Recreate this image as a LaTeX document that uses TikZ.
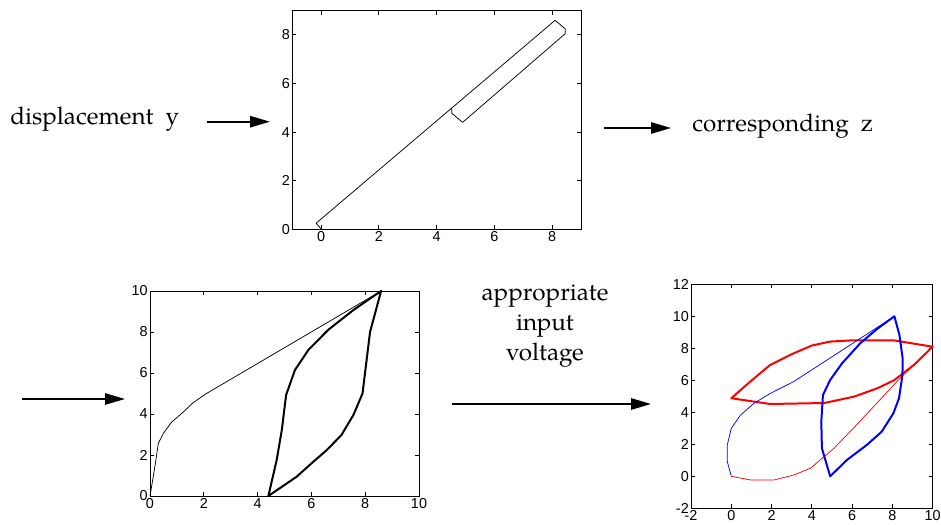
\documentclass[tikz,border=0pt]{standalone}
\usepackage{fontspec}
\setmainfont{TeX Gyre Pagella}
\newfontfamily\ticksans{Liberation Sans}
\usetikzlibrary{arrows.meta}

\begin{document}
\begin{tikzpicture}[x=0.75pt,y=-0.75pt,
    lbl/.style={font=\fontsize{18.2}{22.5}\selectfont, inner sep=0pt},
    arr/.style={-{Triangle[length=15pt,width=8.5pt]}, line width=1.4pt},
    frame/.style={line width=0.6pt},
    ticklbl/.style={font=\ticksans\fontsize{10.8}{12}\selectfont, inner sep=1.5pt},
    thincurve/.style={line width=0.55pt, line join=round},
    boldcurve/.style={line width=1.5pt, line join=round}
]
\useasboundingbox (0,0) rectangle (941,524);

% texts
\node[lbl, anchor=base west] (disp) at (10,125) {displacement\ \ y};
\node[lbl, anchor=base west] (corr) at (692,131.7) {corresponding\ \ z};
\node[lbl, align=center, anchor=north] (volt) at (545,285) {appropriate\\input\\voltage};

% arrow ends
\coordinate (a1s) at (207,121.7);
\coordinate (a1e) at (270,121.7);
\coordinate (a2s) at (604,128);
\coordinate (a2e) at (671,128);
\coordinate (a3s) at (22,399);
\coordinate (a3e) at (125,399);
\coordinate (a4s) at (452,404);
\coordinate (a4e) at (651,404);

\draw[arr] (a1s) -- (a1e);
\draw[arr] (a2s) -- (a2e);
\draw[arr] (a3s) -- (a3e);
\draw[arr] (a4s) -- (a4e);

% plot origins
\coordinate (o1) at (321,229.3);
\coordinate (o2) at (150,496);
\coordinate (o3) at (731.3,476.3);

% top plot
\begin{scope}[shift={(o1)}, x=21.675pt, y=18.225pt]
  \draw[frame] (-1,0) rectangle (9,9);
  \foreach \t in {0,2,...,8} {
    \draw[frame] (\t,0) -- ++(0,3pt) (\t,9) -- ++(0,-3pt);
    \draw[frame] (-1,\t) -- ++(3pt,0) (9,\t) -- ++(-3pt,0);
    \node[ticklbl, anchor=north] (xa\t) at (\t,0) {\t};
    \node[ticklbl, anchor=east] (ya\t) at (-1,\t) {\t};
  }
  \draw[thincurve] (0.02,0) -- (-0.17,0.25) -- (8.1,8.6) -- (8.45,8.25)
    -- (8.45,8.05) -- (4.9,4.4) -- (4.52,4.78) -- (4.52,5.0);
\end{scope}

% bottom left plot
\begin{scope}[shift={(o2)}, x=20.175pt, y=15.375pt]
  \draw[frame] (0,0) rectangle (10,10);
  \foreach \t in {0,2,...,10} {
    \draw[frame] (\t,0) -- ++(0,3pt) (\t,10) -- ++(0,-3pt);
    \draw[frame] (0,\t) -- ++(3pt,0) (10,\t) -- ++(-3pt,0);
    \node[ticklbl, anchor=north] (xb\t) at (\t,0) {\t};
    \node[ticklbl, anchor=east] (yb\t) at (0,\t) {\t};
  }
  \draw[thincurve] (0,0) -- (0.12,0.94) -- (0.22,1.76) -- (0.31,2.57)
    -- (0.5,3.06) -- (0.8,3.6) -- (1.24,4.1) -- (1.6,4.55) -- (2.1,5.0) -- (8.59,10);
  \draw[boldcurve] (8.59,10) -- (8.18,8.0) -- (7.9,5.0) -- (7.56,3.95)
    -- (7.12,2.98) -- (6.57,2.24) -- (6.07,1.67) -- (5.45,0.94) -- (4.4,0)
    -- (4.71,1.76) -- (4.9,3.22) -- (5.06,4.93) -- (5.39,6.15) -- (5.89,7.13)
    -- (6.63,8.11) -- (7.56,9.07) -- cycle;
\end{scope}

% bottom right plot
\begin{scope}[shift={(o3)}, x=15.1pt, y=12pt]
  \draw[frame] (-2,-2) rectangle (10,12);
  \foreach \t in {-2,0,...,10} {
    \draw[frame] (\t,-2) -- ++(0,3pt) (\t,12) -- ++(0,-3pt);
    \node[ticklbl, anchor=north] (xc\t) at (\t,-2) {\t};
  }
  \foreach \t in {-2,0,...,12} {
    \draw[frame] (-2,\t) -- ++(3pt,0) (10,\t) -- ++(-3pt,0);
    \node[ticklbl, anchor=east] (yc\t) at (-2,\t) {\t};
  }
  \draw[thincurve, red] (0,0) -- (0.96,-0.23) -- (2.12,-0.23) -- (3.1,0.08)
    -- (3.93,0.5) -- (5.1,1.75) -- (6.06,3.0) -- (7.22,4.56) -- (8.38,6.13) -- (10,8.1);
  \draw[boldcurve, red] (10,8.1) -- (8.05,8.5) -- (6.06,8.5) -- (4.9,8.42)
    -- (3.99,8.17) -- (3.0,7.63) -- (1.93,6.96) -- (0.94,5.92) -- (0,4.88)
    -- (1.93,4.52) -- (4.6,4.58) -- (5.1,4.71) -- (6.1,4.98) -- (7.25,5.5)
    -- (8.08,6.0) -- (9.07,6.96) -- cycle;
  \draw[thincurve, blue] (0,0) -- (-0.2,0.92) -- (-0.2,1.96) -- (0,3.0)
    -- (0.46,3.83) -- (1.12,4.56) -- (1.95,5.19) -- (3.1,5.92) -- (8.1,10);
  \draw[boldcurve, blue] (8.1,10) -- (8.35,8.83) -- (8.51,7.38) -- (8.5,6.33)
    -- (8.33,4.88) -- (8.05,3.94) -- (7.47,2.79) -- (6.73,1.96) -- (5.74,1.02)
    -- (4.91,0) -- (4.5,1.75) -- (4.47,3.42) -- (4.55,5.08) -- (4.91,6.02)
    -- (5.5,7.06) -- (6.4,8.31) -- (7.22,9.19) -- cycle;
\end{scope}
\end{tikzpicture}
\end{document}
